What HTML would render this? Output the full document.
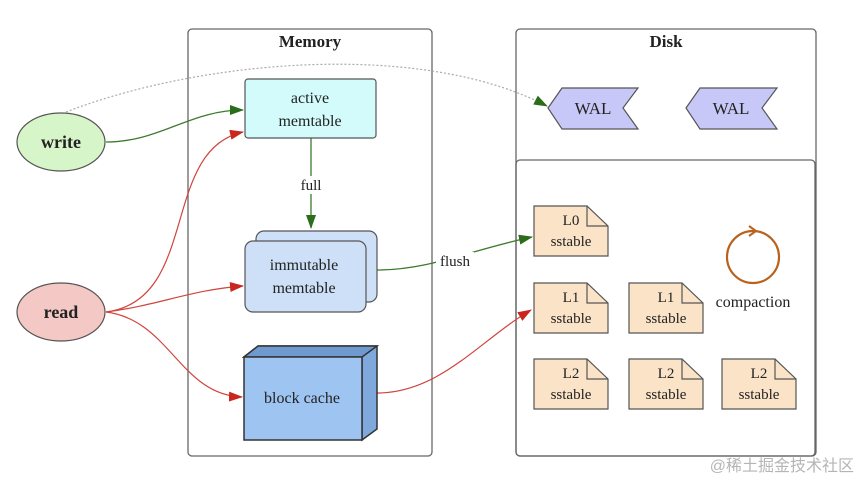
<!DOCTYPE html>
<html><head><meta charset="utf-8"><style>body{margin:0;background:#fff}svg{display:block}text{font-family:"Liberation Serif",serif;fill:#222}</style></head><body>
<svg width="860" height="481" viewBox="0 0 860 481" xmlns="http://www.w3.org/2000/svg">
<defs>
<marker id="g" markerWidth="14" markerHeight="10" refX="13" refY="5" orient="auto" markerUnits="userSpaceOnUse"><path d="M0,0L14,5L0,10z" fill="#2a6e1a"/></marker>
<marker id="r" markerWidth="14" markerHeight="10" refX="13" refY="5" orient="auto" markerUnits="userSpaceOnUse"><path d="M0,0L14,5L0,10z" fill="#c8261e"/></marker>
</defs>
<rect x="188" y="29" width="244" height="427" rx="4" fill="none" stroke="#666" stroke-width="1.3"/>
<text x="310" y="47" font-size="17" font-weight="bold" text-anchor="middle">Memory</text>
<rect x="516" y="29" width="300" height="427" rx="4" fill="none" stroke="#666" stroke-width="1.3"/>
<rect x="516" y="160" width="299" height="296" rx="4" fill="none" stroke="#666" stroke-width="1.3"/>
<text x="666" y="47" font-size="17" font-weight="bold" text-anchor="middle">Disk</text>
<path d="M66,112 C200,60 420,40 547,106" fill="none" stroke="#aaa" stroke-dasharray="2,2" stroke-width="1.2" marker-end="url(#g)"/>
<ellipse cx="61" cy="142" rx="44" ry="29" fill="#d6f5c8" stroke="#555" stroke-width="1.2"/>
<text x="61" y="148" font-size="18" font-weight="bold" text-anchor="middle">write</text>
<ellipse cx="61" cy="312" rx="44" ry="29" fill="#f3c8c5" stroke="#555" stroke-width="1.2"/>
<text x="61" y="318" font-size="18" font-weight="bold" text-anchor="middle">read</text>
<path d="M106,142 C160,142 190,110 243,110" fill="none" stroke="#3d7a2e" stroke-width="1.3" marker-end="url(#g)"/>
<path d="M106,312 C200,300 160,150 243,132" fill="none" stroke="#d0453d" stroke-width="1.2" marker-end="url(#r)"/>
<path d="M106,312 C160,305 190,290 243,286" fill="none" stroke="#d0453d" stroke-width="1.2" marker-end="url(#r)"/>
<path d="M106,312 C170,320 180,395 242,397" fill="none" stroke="#d0453d" stroke-width="1.2" marker-end="url(#r)"/>
<line x1="311" y1="138" x2="311" y2="228" stroke="#3d7a2e" stroke-width="1.3" marker-end="url(#g)"/>
<rect x="296" y="176" width="30" height="18" fill="#fff"/>
<text x="311" y="190" font-size="15" text-anchor="middle">full</text>
<path d="M377,270 C430,270 470,250 532,237" fill="none" stroke="#3d7a2e" stroke-width="1.3" marker-end="url(#g)"/>
<rect x="436" y="252" width="38" height="18" fill="#fff"/>
<text x="455" y="266" font-size="15" text-anchor="middle">flush</text>
<path d="M377,393 C440,393 480,340 531,310" fill="none" stroke="#d0453d" stroke-width="1.2" marker-end="url(#r)"/>
<rect x="245" y="79" width="131" height="59" rx="3" fill="#d4fbfb" stroke="#555" stroke-width="1.2"/>
<text x="310" y="103" font-size="16" text-anchor="middle">active</text>
<text x="310" y="126" font-size="16" text-anchor="middle">memtable</text>
<rect x="256" y="231" width="121" height="71" rx="8" fill="#cde0f8" stroke="#555" stroke-width="1.2"/>
<rect x="245" y="241" width="121" height="71" rx="8" fill="#cde0f8" stroke="#555" stroke-width="1.2"/>
<text x="304" y="270" font-size="16" text-anchor="middle">immutable</text>
<text x="304" y="293" font-size="16" text-anchor="middle">memtable</text>
<path d="M244,357 L258,346 L377,346 L377,429 L362,440 L362,357 Z" fill="#7fa9dc" stroke="#333" stroke-width="1.5"/>
<path d="M244,357 L258,346 L377,346 L362,357 Z" fill="#6f9ad0" stroke="#333" stroke-width="1.5"/>
<rect x="244" y="357" width="118" height="83" fill="#9ec4f2" stroke="#333" stroke-width="1.5"/>
<text x="302" y="403" font-size="16" text-anchor="middle">block cache</text>
<path d="M548,108 L562,88 L638,88 L623,108 L638,129 L562,129 Z" fill="#c8c8f8" stroke="#555" stroke-width="1.2"/>
<text x="593" y="114" font-size="17" text-anchor="middle">WAL</text>
<path d="M686,108 L700,88 L777,88 L762,108 L777,129 L700,129 Z" fill="#c8c8f8" stroke="#555" stroke-width="1.2"/>
<text x="731" y="114" font-size="17" text-anchor="middle">WAL</text>
<g font-size="15" text-anchor="middle">
<g transform="translate(534,206)"><path d="M0,0H53L74,20V50H0Z" fill="#fbe3c8" stroke="#555" stroke-width="1.2"/><path d="M53,0V20H74" fill="none" stroke="#555" stroke-width="1.2"/><text x="37" y="19">L0</text><text x="37" y="40">sstable</text></g>
<g transform="translate(534,283)"><path d="M0,0H53L74,20V50H0Z" fill="#fbe3c8" stroke="#555" stroke-width="1.2"/><path d="M53,0V20H74" fill="none" stroke="#555" stroke-width="1.2"/><text x="37" y="19">L1</text><text x="37" y="40">sstable</text></g>
<g transform="translate(629,283)"><path d="M0,0H53L74,20V50H0Z" fill="#fbe3c8" stroke="#555" stroke-width="1.2"/><path d="M53,0V20H74" fill="none" stroke="#555" stroke-width="1.2"/><text x="37" y="19">L1</text><text x="37" y="40">sstable</text></g>
<g transform="translate(534,359)"><path d="M0,0H53L74,20V50H0Z" fill="#fbe3c8" stroke="#555" stroke-width="1.2"/><path d="M53,0V20H74" fill="none" stroke="#555" stroke-width="1.2"/><text x="37" y="19">L2</text><text x="37" y="40">sstable</text></g>
<g transform="translate(629,359)"><path d="M0,0H53L74,20V50H0Z" fill="#fbe3c8" stroke="#555" stroke-width="1.2"/><path d="M53,0V20H74" fill="none" stroke="#555" stroke-width="1.2"/><text x="37" y="19">L2</text><text x="37" y="40">sstable</text></g>
<g transform="translate(722,359)"><path d="M0,0H53L74,20V50H0Z" fill="#fbe3c8" stroke="#555" stroke-width="1.2"/><path d="M53,0V20H74" fill="none" stroke="#555" stroke-width="1.2"/><text x="37" y="19">L2</text><text x="37" y="40">sstable</text></g>
</g>
<circle cx="753" cy="257" r="26" fill="none" stroke="#b8621e" stroke-width="2.2"/>
<path d="M749,226 L756,231 L749,236" fill="none" stroke="#b8621e" stroke-width="2"/>
<text x="753" y="307" font-size="16" text-anchor="middle">compaction</text>
<text x="854" y="471" font-size="16" text-anchor="end" style="font-family:'Liberation Sans','Noto Sans CJK SC',sans-serif;fill:#b5b5b5">@稀土掘金技术社区</text>
</svg>
</body></html>
